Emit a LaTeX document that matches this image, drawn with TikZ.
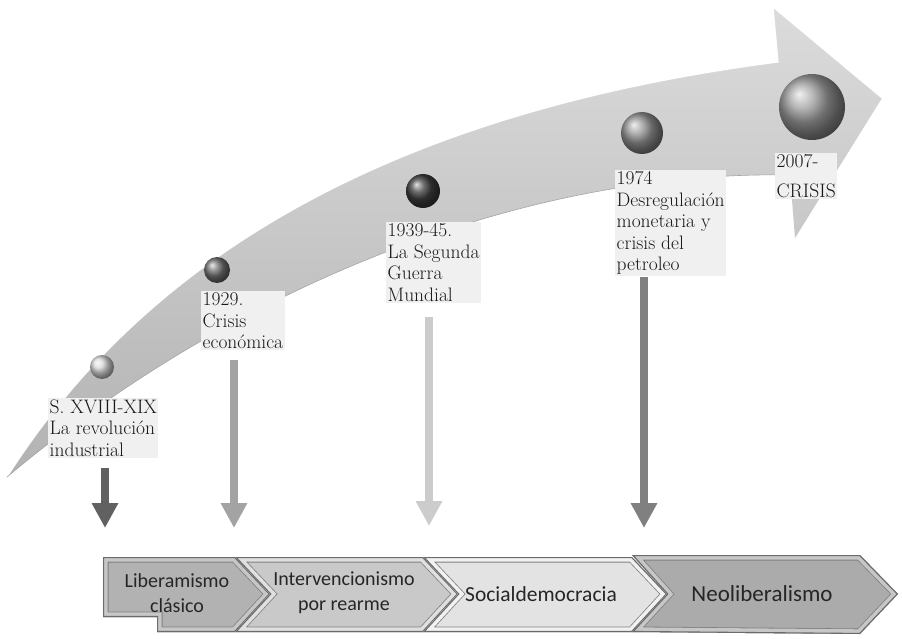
\documentclass[tikz,border=0pt]{standalone}
\usepackage{fontspec}
\newfontfamily\calibri{Carlito}
\usetikzlibrary{arrows.meta}
\newcommand\mychev[3]{%
  \begin{scope}
    \clip #1 -- cycle;
    \fill[#2] #1 -- cycle;
    \draw[line width=11pt, black!50, line join=miter] #1 -- cycle;
    \draw[line width=9.4pt, #3, line join=miter] #1 -- cycle;
    \draw[line width=2.2pt, black!58, line join=miter] #1 -- cycle;
  \end{scope}}
\tikzset{
  band/.style={top color=black!14, bottom color=black!30, draw=none},
  lab/.style={anchor=north west, align=left,
    font=\addfontfeatures{FakeBold=0.35}\fontsize{19.5}{21.5}\selectfont,
    fill=black!6, inner sep=1.5pt, text=black!90},
  sphere/.style={circle, inner sep=0pt, shade, draw=none},
  chevtext/.style={align=center, text=black!85},
  vbar/.style={line width=8pt, -{Triangle[width=25pt,length=25pt]}},
}
\begin{document}
\begin{tikzpicture}[x=1pt,y=-1pt]
\useasboundingbox (0,0) rectangle (902,639);
\fill[white] (0,0) rectangle (902,639);

% curved arrow band
\path[band] (7,477) .. controls (120,300) and (330,120) .. (778,62) -- (773,7)
  -- (882,98) -- (795,238) -- (790,175) .. controls (520,170) and (230,290) .. (7,477) -- cycle;
\draw[white, line width=1.2pt] (7,477) .. controls (120,300) and (330,120) .. (778,62) -- (773,7) -- (882,98);
\draw[black!35, line width=0.6pt] (790,175) .. controls (520,170) and (230,290) .. (7,477);

% spheres
\node[sphere, minimum size=24pt, ball color=black!15] (b1) at (102,367) {};
\node[sphere, minimum size=26pt, ball color=black!55] (b2) at (217,270) {};
\node[sphere, minimum size=34pt, ball color=black!75] (b3) at (423,191) {};
\node[sphere, minimum size=42pt, ball color=black!42] (b4) at (642,133) {};
\node[sphere, minimum size=66pt, ball color=black!38] (b5) at (812,107) {};

% labels
\node[lab] (lab1) at (48,398) {S. XVIII-XIX\\La revolución\\industrial};
\node[lab] (lab2) at (201,291) {1929.\\Crisis\\económica};
\node[lab] (lab3) at (386,222) {1939-45.\\La Segunda\\Guerra\\Mundial};
\node[lab] (lab4) at (615,170) {1974\\Desregulación\\monetaria y\\crisis del\\petroleo};
\node[lab] (lab5) at (775,153) {2007-\\[8pt]CRISIS};

% chevrons
\mychev{(103,557) -- (235,557) -- (270,594) -- (235,632) -- (157,632) -- (157,617) -- (103,617)}{black!30}{black!22}
\mychev{(235,557) -- (423,557) -- (458,594) -- (423,632) -- (235,632) -- (270,594)}{black!21}{black!12}
\mychev{(423,557) -- (632,557) -- (667,594) -- (632,632) -- (423,632) -- (458,594)}{black!11}{black!5}
\mychev{(632,555) -- (860,555) -- (898,594) -- (860,634) -- (632,632) -- (667,594)}{black!33}{black!22}

\node[chevtext, font=\calibri\fontsize{20}{25}\selectfont] (c1) at (177,593) {Liberamismo\\clásico};
\node[chevtext, font=\calibri\fontsize{20}{25}\selectfont] (c2) at (344,593) {Intervencionismo\\por rearme};
\node[chevtext, font=\calibri\fontsize{21.5}{25}\selectfont] (c3) at (541,594) {Socialdemocracia};
\node[chevtext, font=\calibri\fontsize{23}{25}\selectfont] (c4) at (762,594) {Neoliberalismo};

% vertical arrows
\coordinate (a1s) at (105,468); \coordinate (a1e) at (105,528);
\coordinate (a2s) at (234,360); \coordinate (a2e) at (234,528);
\coordinate (a3s) at (429,317); \coordinate (a3e) at (429,526);
\coordinate (a4s) at (644,277); \coordinate (a4e) at (644,528);
\draw[vbar, draw=black!62, fill=black!62] (a1s) -- (a1e);
\draw[vbar, draw=black!36, fill=black!36] (a2s) -- (a2e);
\draw[vbar, draw=black!20, fill=black!20] (a3s) -- (a3e);
\draw[vbar, draw=black!50, fill=black!50] (a4s) -- (a4e);
\end{tikzpicture}
\end{document}
